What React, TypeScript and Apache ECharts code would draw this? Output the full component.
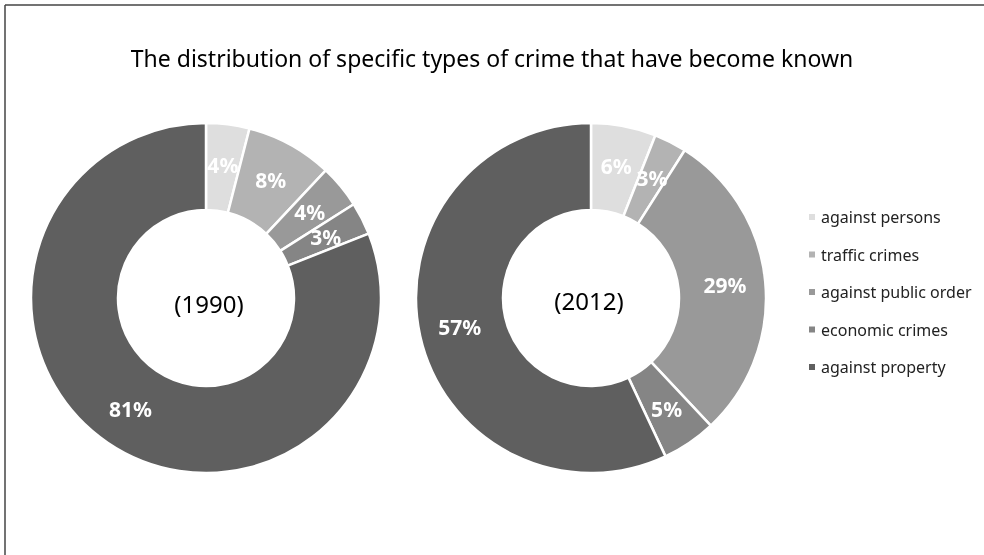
import React, { useEffect, useRef } from "react";
import * as echarts from "echarts";

const categories = ["against persons", "traffic crimes", "against public order", "economic crimes", "against property"];
const values1990 = [4, 8, 4, 3, 81];
const values2012 = [6, 3, 29, 5, 57];
const years = ["(1990)", "(2012)"];
const colors = ["#dedede", "#b3b3b3", "#999999", "#858585", "#5f5f5f"];
const titleText = "The distribution of specific types of crime that have become known";

const FONT = "'Noto Sans', sans-serif";

export default function App() {
  const ref = useRef<HTMLDivElement>(null);
  useEffect(() => {
    document.body.style.margin = "0";
    const chart = echarts.init(ref.current!, null, { renderer: "svg" });
    const makeSeries = (vals: number[], cx: number) => ({
      type: "pie",
      center: [cx, 298],
      radius: [88, 175],
      startAngle: 90,
      clockwise: true,
      avoidLabelOverlap: false,
      data: categories.map((c, i) => ({ name: c, value: vals[i] })),
      itemStyle: { borderColor: "#ffffff", borderWidth: 2.5 },
      label: {
        show: true,
        position: "inside",
        formatter: "{c}%",
        color: "#ffffff",
        fontWeight: "bold",
        fontSize: 21,
        fontFamily: FONT,
      },
      labelLine: { show: false },
      emphasis: { disabled: true },
    });
    chart.setOption({
      animation: false,
      color: colors,
      title: {
        text: titleText,
        left: "center",
        top: 41,
        textStyle: { fontSize: 23, fontWeight: "normal", color: "#000000", fontFamily: FONT },
      },
      legend: {
        orient: "vertical",
        left: 802,
        top: 204,
        icon: "rect",
        itemWidth: 8,
        itemHeight: 8,
        itemGap: 21.5,
        data: categories,
        textStyle: { fontSize: 16, color: "#222222", fontFamily: FONT },
      },
      series: [makeSeries(values1990, 206), makeSeries(values2012, 591)],
      graphic: [
        { type: "line", shape: { x1: 5, y1: 5, x2: 984, y2: 5 }, style: { stroke: "#444444", lineWidth: 1.5 } },
        { type: "line", shape: { x1: 5, y1: 5, x2: 5, y2: 555 }, style: { stroke: "#444444", lineWidth: 1.5 } },
        { type: "text", x: 209, y: 303, style: { text: years[0], fontSize: 24, fill: "#000000", fontFamily: FONT, align: "center", verticalAlign: "middle" } },
        { type: "text", x: 589, y: 300, style: { text: years[1], fontSize: 24, fill: "#000000", fontFamily: FONT, align: "center", verticalAlign: "middle" } },
      ],
    });
    return () => chart.dispose();
  }, []);
  return <div ref={ref} style={{ position: "fixed", left: 0, top: 0, width: 984, height: 555 }} />;
}
